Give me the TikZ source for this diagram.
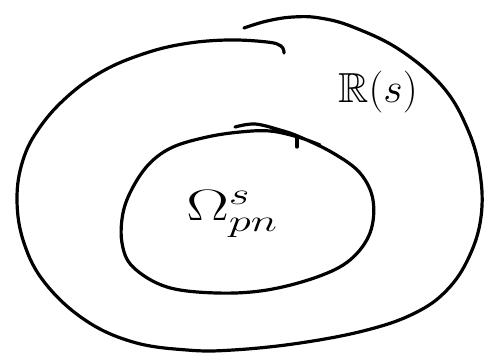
\RequirePackage{fix-cm}
\documentclass[tikz,border=0pt]{standalone}
\usepackage{amssymb}
\usepackage{graphicx}
\tikzset{sketch/.style={line width=3.2pt,line cap=round,line join=round}}
\begin{document}
\begin{tikzpicture}[x=1pt,y=-1pt]
\useasboundingbox (0,0) rectangle (493,360);
% outer curve
\draw[sketch] plot[smooth,tension=0.65] coordinates {(244,28) (267,21) (293,17) (320,18) (353,27) (400,50) (443,87) (468,130) (480,173) (481,217) (469,257) (447,290) (415,313) (367,330) (300,343) (233,350) (187,350) (133,342) (85,320) (45,283) (24,243) (17,200) (23,160) (40,127) (68,96) (103,71) (143,54) (183,44) (227,40) (267,42) (281,46) (284,53)};
% inner curve
\draw[sketch] plot[smooth,tension=0.6] coordinates {(235,127) (255,124) (280,130) (300,137) (333,153) (360,173) (373,200) (370,233) (350,260) (317,277) (267,290) (217,293) (167,287) (133,267) (122,243) (123,213) (133,187) (150,163) (173,147) (207,137) (240,132) (270,131) (298,137) (320,145)};
\coordinate (t1) at (297,137);
\coordinate (t2) at (297,147);
\draw[sketch] (t1) -- (t2);
% labels
\node[font=\fontsize{42}{46}\selectfont,inner sep=0pt] (R) at (378,92) {$\mathbb{R}(s)$};
\node[font=\fontsize{44}{48}\selectfont,inner sep=0pt] (O) at (232,214) {\scalebox{1.45}[1]{$\Omega^{s}_{pn}$}};
\end{tikzpicture}
\end{document}
